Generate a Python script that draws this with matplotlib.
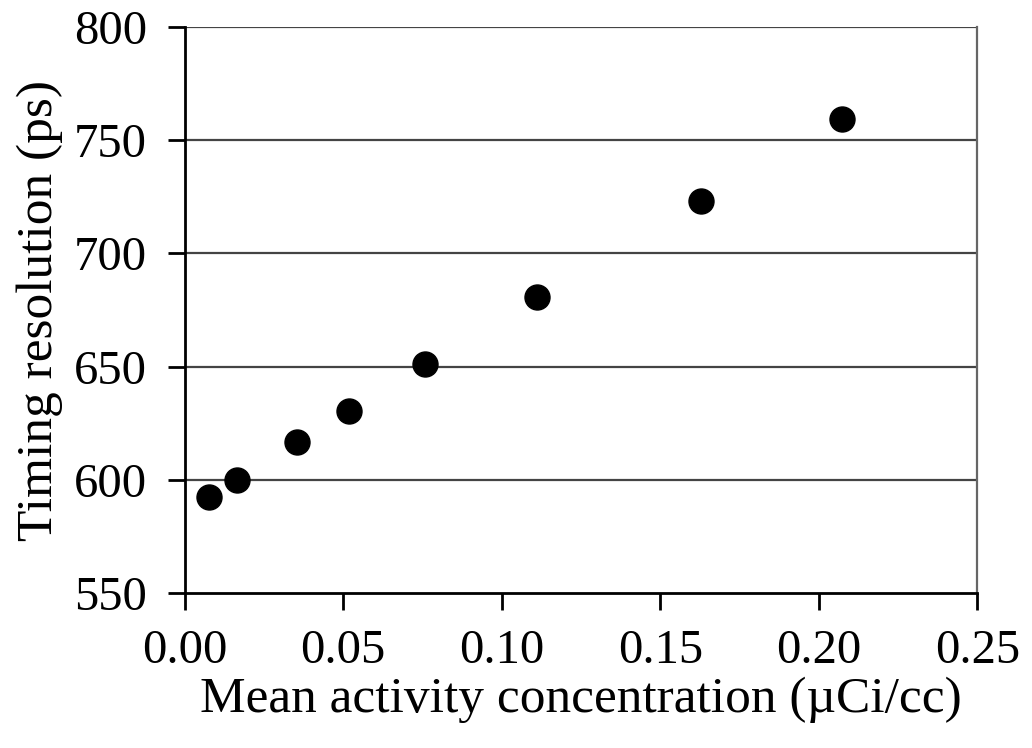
import matplotlib.pyplot as plt

activity = [0.0076, 0.0164, 0.0354, 0.0518, 0.0758, 0.1110, 0.1630, 0.2074]
timing = [592.4, 599.9, 616.7, 630.4, 651.1, 680.7, 723.1, 759.4]

x_ticks = [0.00, 0.05, 0.10, 0.15, 0.20, 0.25]
x_tick_labels = ["0.00", "0.05", "0.10", "0.15", "0.20", "0.25"]
y_ticks = [550, 600, 650, 700, 750, 800]


def plot_chart():
    plt.rcParams["font.family"] = ["Liberation Serif", "DejaVu Serif"]

    fig = plt.figure(figsize=(10.32, 7.48), dpi=100)
    ax = fig.add_axes([0.179, 0.207, 0.768, 0.757])

    ax.plot(activity, timing, "o", color="black", markersize=18, zorder=3)

    ax.set_xlim(0, 0.25)
    ax.set_ylim(550, 800)
    ax.set_xticks(x_ticks)
    ax.set_xticklabels(x_tick_labels)
    ax.set_yticks(y_ticks)

    for y in y_ticks[1:]:
        ax.axhline(y, color="#444444", linewidth=1.6, zorder=1)

    ax.spines["top"].set_visible(False)
    ax.spines["right"].set_color("#666666")
    ax.spines["right"].set_linewidth(1.6)
    ax.spines["left"].set_linewidth(2)
    ax.spines["bottom"].set_linewidth(2)

    ax.tick_params(axis="both", direction="out", length=12, width=2,
                   labelsize=35, colors="black")
    ax.tick_params(axis="y", pad=15)
    ax.tick_params(axis="x", pad=14)

    ax.set_xlabel("Mean activity concentration (\u00b5Ci/cc)", fontsize=37,
                  labelpad=2)
    ax.set_ylabel("Timing resolution (ps)", fontsize=37, labelpad=8)

    fig.savefig("out.png", dpi=100)


if __name__ == "__main__":
    plot_chart()
